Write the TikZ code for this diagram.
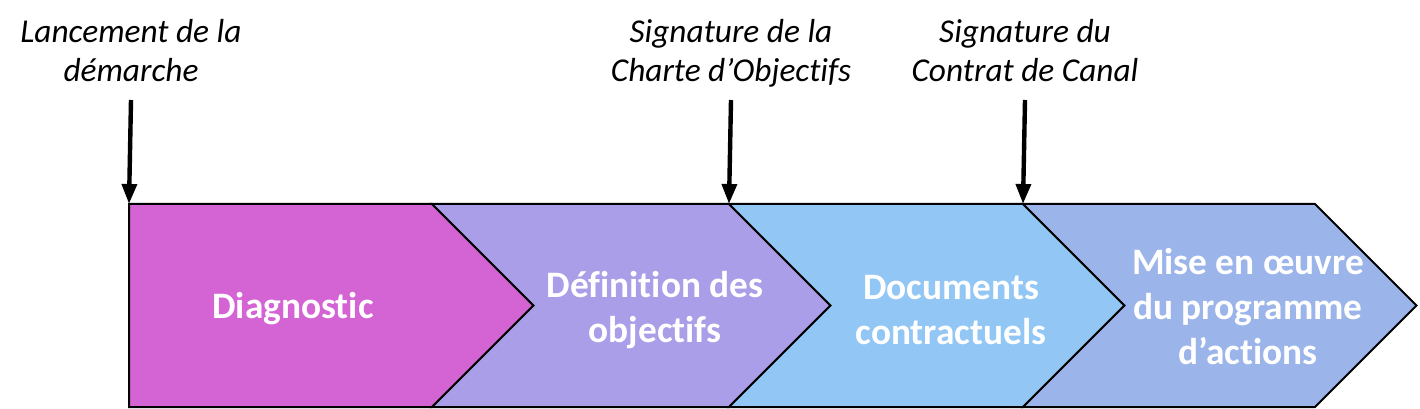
\documentclass[tikz,border=0pt]{standalone}
\usepackage{fontspec}
\setmainfont{Carlito}[Ligatures=NoCommon]
\usepackage{tikz}
\usetikzlibrary{arrows.meta,positioning}
\definecolor{diagpink}{RGB}{212,99,211}
\definecolor{objlilac}{RGB}{171,158,232}
\definecolor{docblue}{RGB}{146,198,244}
\definecolor{actblue}{RGB}{155,180,234}
\tikzset{>={Triangle[length=15pt,width=11pt]}}
\tikzstyle{milestone}=[
	 font=\itshape\fontsize{25}{29.25}\selectfont,
	 align=center, inner sep=0pt, outer ysep=13.5pt,
	 text depth=0pt, anchor=south
    ]
\tikzstyle{phase}=[
	 font=\bfseries\fontsize{28}{33.75}\selectfont,
	 text=white, align=center
    ]
\tikzstyle{chevron}=[draw=black, line width=1.5pt, line join=miter]
\tikzstyle{mark arrow}=[->, line width=3.3pt]
\newcommand{\pChev}[3]{\filldraw[chevron, fill=#3] (#1,204) -- (#2,204) -- ++(101.5,101.5) -- (#2,407) -- (#1,407) -- ++(101.5,-101.5) -- cycle}

\begin{document}
\begin{tikzpicture}[x=0.75pt,y=-0.75pt]
\useasboundingbox (0,0) rectangle (1420,409);

\coordinate (C1) at (129,204);
\coordinate (C2) at (729,204);
\coordinate (C3) at (1023,204);

\filldraw[chevron, fill=diagpink] (C1) -- (432,204) -- (533.5,305.5) -- (432,407) -- (129,407) -- cycle;
\pChev{432}{729}{objlilac};
\pChev{729}{1023}{docblue};
\pChev{1023}{1315}{actblue};

\node[phase] (P1) at (293,309) {Diagnostic};
\node[phase] (P2) at (655,310) {Définition des\\objectifs};
\node[phase] (P3) at (951,310) {Documents\\contractuels};
\node[phase] (P4) at (1248,307) {Mise en œuvre\\du programme\\d’actions};

\node[milestone] (M1) at (131,100) {Lancement de la\\démarche};
\node[milestone] (M2) at (731,100) {Signature de la\\Charte d’Objectifs};
\node[milestone] (M3) at (1025,100) {Signature du\\Contrat de Canal};

\draw[mark arrow] (M1.south) -- (C1);
\draw[mark arrow] (M2.south) -- (C2);
\draw[mark arrow] (M3.south) -- (C3);

\end{tikzpicture}
\end{document}
